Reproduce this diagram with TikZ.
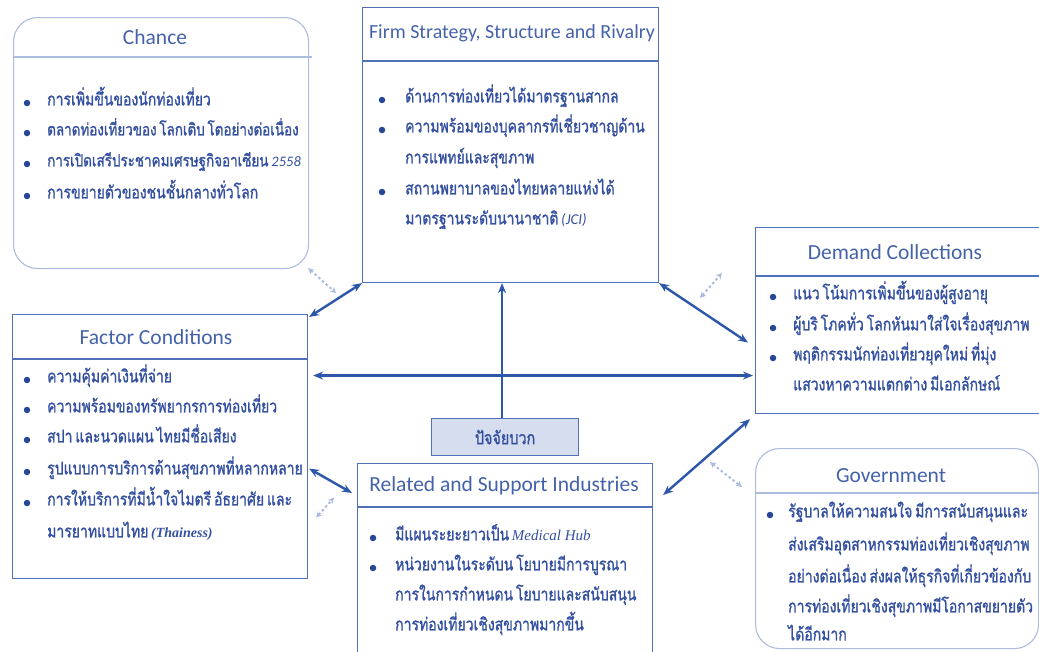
\documentclass[tikz,border=0pt]{standalone}
\usepackage{fontspec}
\setmainfont{Carlito}
\newfontfamily\thaifont[Script=Thai,FakeStretch=0.8,FakeBold=1.3,WordSpace=0.6]{Loma}
\newfontfamily\latinserif{Liberation Serif}
\usetikzlibrary{arrows.meta,calc}

\definecolor{txtc}{RGB}{52,80,160}
\definecolor{headc}{RGB}{68,98,170}
\definecolor{boxc}{RGB}{80,112,185}
\definecolor{palec}{RGB}{172,188,222}
\definecolor{arrc}{RGB}{45,88,170}
\definecolor{dotc}{RGB}{40,70,150}
\definecolor{pullfill}{RGB}{214,221,238}

\tikzset{
  box/.style={draw=boxc, line width=1.1pt, inner sep=0pt, anchor=north west},
  softbox/.style={draw=palec, line width=1.1pt, inner sep=0pt, anchor=north west, rounded corners=24pt},
  head/.style={text=headc, font=\fontsize{21.5}{24}\selectfont, inner sep=0pt},
  rule/.style={draw=boxc, line width=1.1pt},
  softrule/.style={draw=palec, line width=1.1pt},
  dot/.style={circle, fill=dotc, inner sep=0pt, minimum size=6.5pt},
  tline/.style={anchor=mid west, inner sep=0pt, text=txtc, font=\thaifont\fontsize{17.5}{20}\selectfont},
  tight/.style={font=\thaifont\fontsize{16.8}{20}\selectfont},
  conn/.style={draw=arrc, line width=2.4pt, {Stealth[length=10pt,width=8pt]}-{Stealth[length=10pt,width=8pt]}},
  oneway/.style={draw=arrc, line width=2.4pt, -{Stealth[length=10pt,width=8pt]}},
  faint/.style={draw=palec, line width=2pt, dash pattern=on 2.5pt off 2.5pt, {Stealth[length=6pt,width=6pt]}-{Stealth[length=6pt,width=6pt]}},
}
% bullet item: name, bullet x, text x, y, text
\newcommand\bitem[5]{%
  \node[dot] (#1-b) at (#2,#4) {};
  \node[tline] (#1) at (#3,#4) {#5};}
% continuation line: name, x, y, text
\newcommand\contline[4]{\node[tline] (#1) at (#2,#3) {#4};}

\begin{document}
\begin{tikzpicture}[x=1pt,y=-1pt]
\useasboundingbox (0,0) rectangle (1039,651);
\clip (0,0) rectangle (1039,651);

% ---- boxes ----
\node[softbox, minimum width=295pt, minimum height=251pt] (chance) at (13,17) {};
\node[box, minimum width=296pt, minimum height=275pt] (firm) at (362,7) {};
\node[box, minimum width=290pt, minimum height=186pt] (demand) at (755,227) {};
\node[box, minimum width=295pt, minimum height=264pt] (factor) at (12,314) {};
\node[box, fill=pullfill, minimum width=147pt, minimum height=37pt] (pull) at (431,418) {};
\node[box, minimum width=295pt, minimum height=200pt] (related) at (357,463) {};
\node[softbox, minimum width=283pt, minimum height=200pt] (gov) at (755,448) {};

% ---- header rules ----
\draw[softrule] (chance.west |- 0,57) -- ([xshift=3pt]chance.east |- 0,57);
\draw[rule] (firm.west |- 0,61) -- (firm.east |- 0,61);
\draw[rule] (demand.west |- 0,276) -- (demand.east |- 0,276);
\draw[rule] (factor.west |- 0,359) -- (factor.east |- 0,359);
\draw[rule] (related.west |- 0,507) -- (related.east |- 0,507);
\draw[softrule] (gov.west |- 0,493) -- (gov.east |- 0,493);

% ---- headers ----
\node[head] (chance-h) at (155,37) {Chance};
\node[head, font=\fontsize{20}{23}\selectfont] (firm-h) at (512,33) {Firm Strategy, Structure and Rivalry};
\node[head] (demand-h) at (895,252) {Demand Collections};
\node[head] (factor-h) at (156,337) {Factor Conditions};
\node[head] (related-h) at (504,486) {Related and Support Industries};
\node[head] (gov-h) at (891,476) {Government};
\node[text=txtc, font=\thaifont\fontsize{18}{20}\selectfont] (pull-t) at (pull) {ปัจจัยบวก};

% ---- Chance ----
\bitem{c1}{27}{47}{103}{การเพิ่มขึ้นของนักท่องเที่ยว}
\node[dot] (c2-b) at (27,133) {};
\node[tline, tight] (c2) at (47,133) {ตลาดท่องเที่ยวของ โลกเติบ โตอย่างต่อเนื่อง};
\node[dot] (c3-b) at (27,164) {};
\node[tline, tight] (c3) at (47,164) {การเปิดเสรีประชาคมเศรษฐกิจอาเซียน\hspace{3pt}{\normalfont\itshape\fontsize{14.5}{17}\selectfont 2558}};
\bitem{c4}{27}{47}{196}{การขยายตัวของชนชั้นกลางทั่วโลก}

% ---- Firm ----
\bitem{f1}{382}{405}{100}{ด้านการท่องเที่ยวได้มาตรฐานสากล}
\bitem{f2}{382}{405}{130}{ความพร้อมของบุคลากรที่เชี่ยวชาญด้าน}
\contline{f2b}{405}{161}{การแพทย์และสุขภาพ}
\bitem{f3}{382}{405}{192}{สถานพยาบาลของไทยหลายแห่งได้}
\contline{f3b}{405}{222}{มาตรฐานระดับนานาชาติ {\normalfont\itshape\fontsize{15}{17}\selectfont (JCI)}}

% ---- Demand ----
\bitem{d1}{773}{793}{297}{แนว โน้มการเพิ่มขึ้นของผู้สูงอายุ}
\bitem{d2}{773}{793}{328}{ผู้บริ โภคทั่ว โลกหันมาใส่ใจเรื่องสุขภาพ}
\bitem{d3}{773}{793}{358}{พฤติกรรมนักท่องเที่ยวยุคใหม่ ที่มุ่ง}
\contline{d3b}{793}{388}{แสวงหาความแตกต่าง มีเอกลักษณ์}

% ---- Factor ----
\bitem{a1}{27}{47}{380}{ความคุ้มค่าเงินที่จ่าย}
\bitem{a2}{27}{47}{410}{ความพร้อมของทรัพยากรการท่องเที่ยว}
\bitem{a3}{27}{47}{440}{สปา และนวดแผน ไทยมีชื่อเสียง}
\bitem{a4}{27}{47}{472}{รูปแบบการบริการด้านสุขภาพที่หลากหลาย}
\bitem{a5}{27}{47}{503}{การให้บริการที่มีน้ำใจไมตรี อัธยาศัย และ}
\contline{a5b}{47}{535}{มารยาทแบบไทย {\latinserif\itshape\bfseries\fontsize{14}{16}\selectfont (Thainess)}}

% ---- Related ----
\bitem{r1}{373}{395}{538}{มีแผนระยะยาวเป็น {\latinserif\itshape\fontsize{15}{17}\selectfont Medical Hub}}
\bitem{r2}{373}{395}{568}{หน่วยงานในระดับน โยบายมีการบูรณา}
\contline{r2b}{395}{598}{การในการกำหนดน โยบายและสนับสนุน}
\contline{r2c}{395}{628}{การท่องเที่ยวเชิงสุขภาพมากขึ้น}

% ---- Government ----
\bitem{g1}{770}{788}{515}{รัฐบาลให้ความสนใจ มีการสนับสนุนและ}
\contline{g1b}{788}{548}{ส่งเสริมอุตสาหกรรมท่องเที่ยวเชิงสุขภาพ}
\contline{g1c}{788}{580}{อย่างต่อเนื่อง ส่งผลให้ธุรกิจที่เกี่ยวข้องกับ}
\contline{g1d}{788}{610}{การท่องเที่ยวเชิงสุขภาพมีโอกาสขยายตัว}
\contline{g1e}{788}{638}{ได้อีกมาก}

% ---- connectors ----
\draw[conn] (firm.south west) -- ([xshift=1pt,yshift=-3pt]factor.north east);
\draw[conn] (firm.south east) -- ([xshift=-7pt,yshift=-22pt]demand.west);
\draw[conn] ([xshift=5pt,yshift=71pt]factor.east) -- ([xshift=-2pt,yshift=-55pt]demand.west);
\draw[conn] ([xshift=1pt,yshift=-22pt]factor.east) -- ([xshift=-5pt,yshift=-30pt]related.north west);
\draw[conn] ([xshift=10pt,yshift=-32pt]related.north east) -- ([xshift=-5pt,yshift=-5pt]demand.south west);
\draw[oneway] ([xshift=-3pt]pull.north) -- ([xshift=-3pt]pull.north |- firm.south);

% ---- faint links ----
\draw[faint] ([xshift=-1pt,yshift=1pt]chance.south east) -- ([xshift=27pt,yshift=-24pt]chance.south east);
\draw[faint] ([xshift=-55pt,yshift=-71pt]demand.north west) -- ([xshift=-33pt,yshift=-46pt]demand.north west);
\draw[faint] ([xshift=-45pt,yshift=-14pt]gov.north west) -- ([xshift=-13pt,yshift=-39pt]gov.north west);
\draw[faint] ([xshift=8pt,yshift=-71pt]factor.east) -- ([xshift=26pt,yshift=-51pt]factor.east);
\end{tikzpicture}
\end{document}
